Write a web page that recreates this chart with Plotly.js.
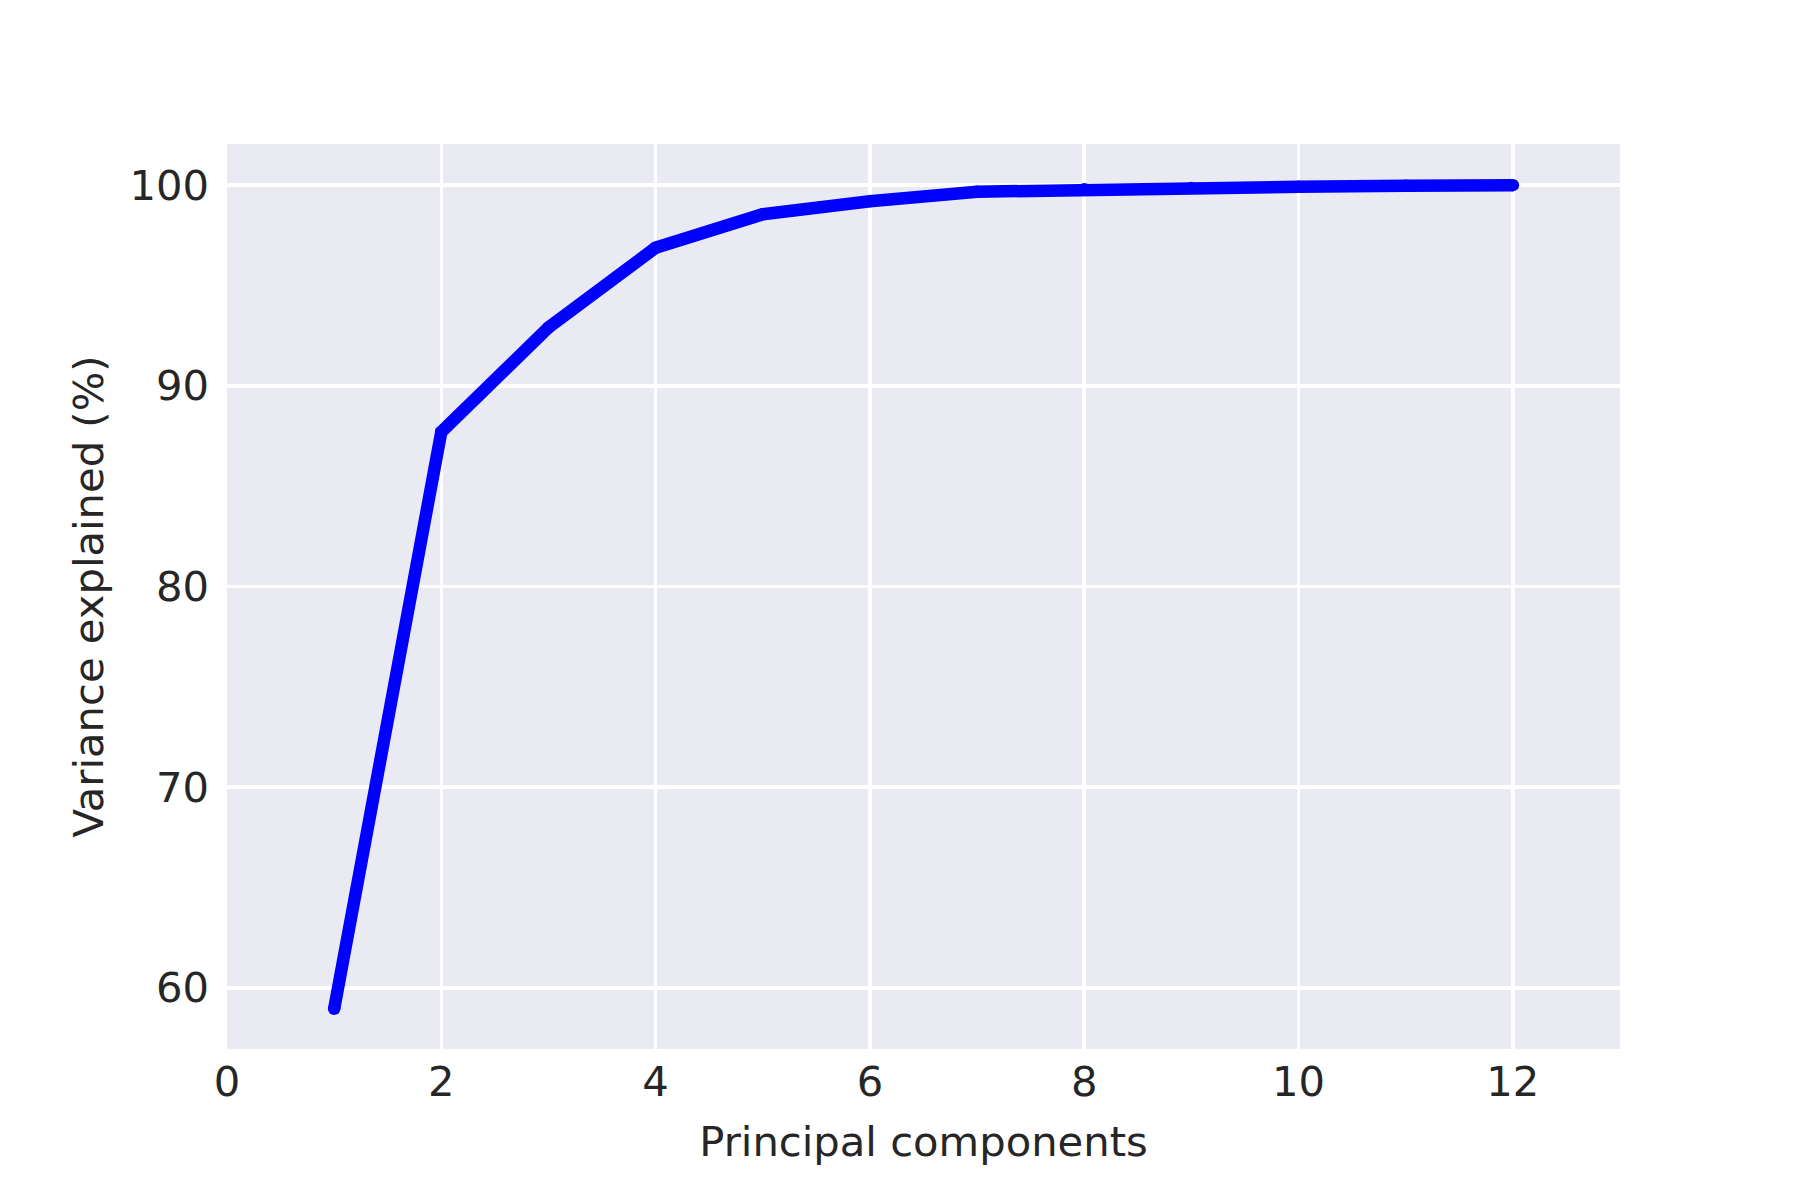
<!DOCTYPE html>
<html>
<head>
<meta charset="utf-8">
<script src="https://cdn.plot.ly/plotly-3.0.1.min.js"></script>
<style>html,body{margin:0;padding:0;background:#fff;}#chart{width:1800px;height:1200px;}</style>
</head>
<body>
<div id="chart"></div>
<script>
const components = [1, 2, 3, 4, 5, 6, 7, 8, 9, 10, 11, 12];
const varianceExplained = [58.95, 87.7, 92.9, 96.88, 98.55, 99.2, 99.67, 99.8, 99.86, 99.92, 99.97, 100.0];
const xTicks = [0, 2, 4, 6, 8, 10, 12];
const yTicks = [60, 70, 80, 90, 100];
const xTitle = 'Principal components';
const yTitle = 'Variance explained (%)';

const font = 'DejaVu Sans, sans-serif';
const textColor = '#262626';

const trace = {
  x: components,
  y: varianceExplained,
  mode: 'lines+markers',
  line: {color: '#0000ff', width: 12.5},
  marker: {color: '#0000ff', size: 12.5},
  hoverinfo: 'x+y',
  showlegend: false
};

const layout = {
  width: 1800,
  height: 1200,
  paper_bgcolor: '#ffffff',
  plot_bgcolor: '#EAEAF2',
  margin: {l: 227, r: 180, t: 144, b: 151, pad: 0},
  font: {family: font, color: textColor, size: 41.7},
  xaxis: {
    range: [0, 13],
    tickvals: xTicks,
    ticktext: xTicks.map(String),
    showgrid: true,
    gridcolor: '#ffffff',
    gridwidth: 3.5,
    zeroline: false,
    showline: false,
    ticks: '',
    ticklabelstandoff: 4,
    tickfont: {family: font, size: 41.7, color: textColor},
    title: {text: xTitle, font: {family: font, size: 41.7, color: textColor}, standoff: 22}
  },
  yaxis: {
    range: [56.95, 102.05],
    tickvals: yTicks,
    ticktext: yTicks.map(String),
    showgrid: true,
    gridcolor: '#ffffff',
    gridwidth: 3.5,
    zeroline: false,
    showline: false,
    ticks: '',
    ticklabelstandoff: 17,
    tickfont: {family: font, size: 41.7, color: textColor},
    title: {text: yTitle, font: {family: font, size: 41.7, color: textColor}, standoff: 12}
  }
};

Plotly.newPlot('chart', [trace], layout, {displayModeBar: false, staticPlot: true});
</script>
</body>
</html>
